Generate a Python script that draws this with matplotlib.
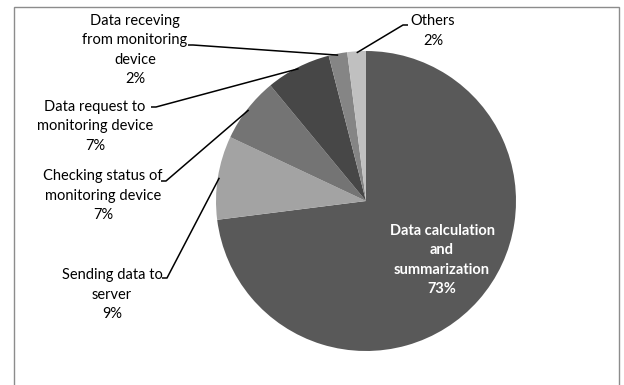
import matplotlib
matplotlib.use("Agg")
import matplotlib.pyplot as plt
import numpy as np
from matplotlib.patches import Rectangle

plt.rcParams["font.family"] = ["Lato", "DejaVu Sans"]

# datos
categorias = ["Data calculation\nand\nsummarization", "Sending data to\nserver",
              "Checking status of\nmonitoring device", "Data request to\nmonitoring device",
              "Data receving\nfrom monitoring\ndevice", "Others"]
valores = [73, 9, 7, 7, 2, 2]
colores = ["#595959", "#a3a3a3", "#747474", "#474747", "#858585", "#c0c0c0"]

W, H = 624, 385
CX, CY, R = 366, 201, 150


def px2d(px, py):
    return (px - CX) / R, (CY - py) / R


fig = plt.figure(figsize=(W / 100, H / 100), dpi=100)
fig.patches.append(Rectangle((14 / W, -0.1), (619 - 14) / W, 1.1 - 7 / H,
                             transform=fig.transFigure, fill=False,
                             edgecolor="#8c8c8c", lw=1.0))
ax = fig.add_axes([(CX - R) / W, (H - CY - R) / H, 2 * R / W, 2 * R / H])
wedges, _ = ax.pie(valores, colors=colores, startangle=90, counterclock=False,
                   radius=1.0, wedgeprops=dict(linewidth=0))
ax.set_xlim(-1, 1)
ax.set_ylim(-1, 1)
ax.set_aspect("equal")
ax.axis("off")

# etiqueta interior
tx, ty = px2d(442, 260)
ax.text(tx, ty, f"{categorias[0]}\n{valores[0]}%", color="white", fontsize=10.5,
        fontweight="bold", ha="center", va="center", linespacing=1.5)

# etiquetas exteriores: (centro texto), (punto de enganche)
layout = {
    1: ((112, 295), (162, 278)),
    2: ((103, 196), (161, 181)),
    3: ((95, 126), (151, 107)),
    4: ((135, 50), (188, 45)),
    5: ((433, 31), (408, 25)),
}
for i, ((lx, ly), (ax_px, ay_px)) in layout.items():
    x, y = px2d(lx, ly)
    ax.text(x, y, f"{categorias[i]}\n{valores[i]}%", fontsize=10.5, ha="center",
            va="center", linespacing=1.5, color="black", clip_on=False)
    w = wedges[i]
    ang = np.deg2rad((w.theta1 + w.theta2) / 2)
    x_end, y_end = np.cos(ang) * 0.99, np.sin(ang) * 0.99
    sx, sy = px2d(ax_px, ay_px)
    step = 5 / R if i != 5 else -5 / R
    ax.plot([sx, sx + step, x_end], [sy, sy, y_end], color="black", lw=1.1,
            clip_on=False, solid_capstyle="butt")

fig.savefig("out.png", dpi=100)
